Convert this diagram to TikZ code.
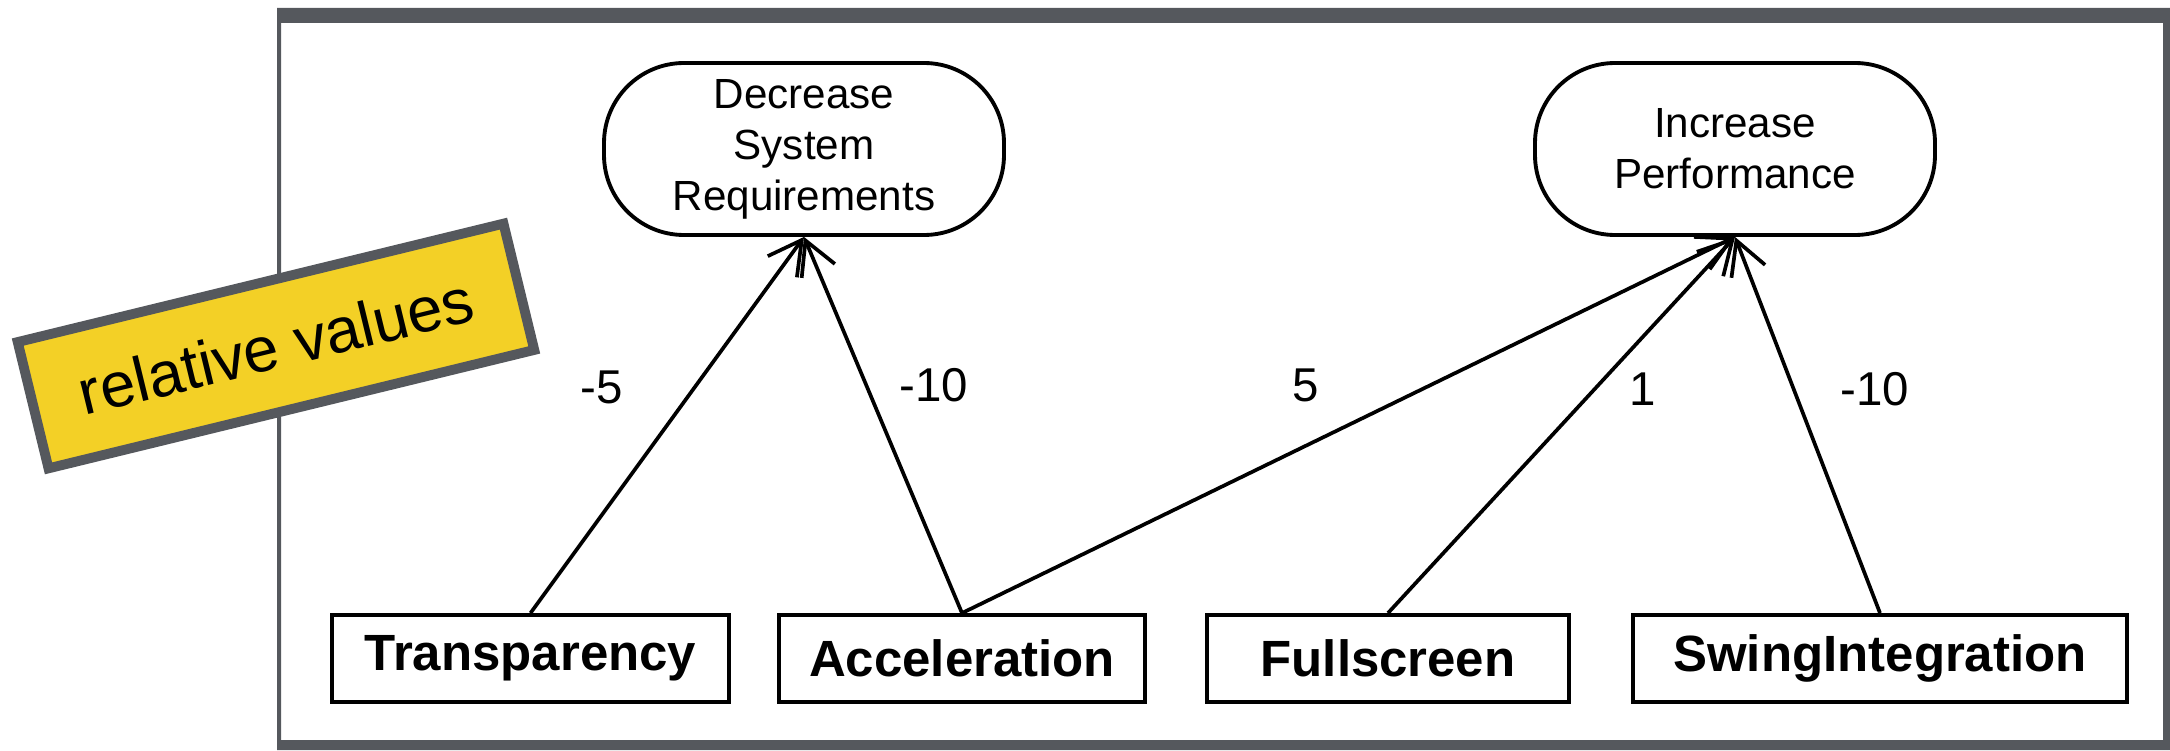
\documentclass[tikz,border=0pt]{standalone}
\usepackage{fontspec}
\setmainfont{Liberation Sans}
\definecolor{notegray}{RGB}{85,88,93}
\definecolor{noteyellow}{RGB}{243,208,38}
\usetikzlibrary{arrows.meta}
\usetikzlibrary{positioning}
\tikzset{
  goal/.style={draw, line width=1.1pt, rounded corners=0.8cm, minimum width=4cm, minimum height=1.72cm, align=center, font=\fontsize{12}{14.5}\selectfont},
  feature/.style={draw, line width=1.1pt, minimum height=0.87cm, font=\fontsize{14.5}{17}\selectfont\bfseries},
  contrib/.style={line width=1.05pt, -{Straight Barb[length=3.3mm,width=3.6mm]}},
  weight/.style={font=\fontsize{13.5}{16}\selectfont},
}

\begin{document}
\begin{tikzpicture}
  \useasboundingbox (0,0) rectangle (21.7,7.5);

  % frame
  \fill [notegray, even odd rule] (2.77,0) rectangle (21.7,7.42) (2.81,0.10) rectangle (21.63,7.27);

  \node [goal] (dec) at (8.04,6.01) {Decrease\\System\\Requirements};
  \node [goal] (inc) at (17.35,6.01) {Increase\\Performance};

  \node [feature, minimum width=3.97cm] (trans) at (5.305,0.915) {Transparency};
  \node [feature, minimum width=3.66cm] (accel) at (9.62,0.915) {Acceleration};
  \node [feature, minimum width=3.62cm] (full) at (13.88,0.915) {Fullscreen};
  \node [feature, minimum width=4.94cm] (swing) at (18.8,0.915) {SwingIntegration};

  \draw [contrib] (trans.north) -- (dec.south);
  \draw [contrib] (accel.north) -- (dec.south);
  \draw [contrib] (accel.north) -- (inc.south);
  \draw [contrib] (full.north) -- (inc.south);
  \draw [contrib] (swing.north) -- (inc.south);

  \node [weight] (w1) at (6.02,3.63) {-5};
  \node [weight] (w2) at (9.34,3.65) {-10};
  \node [weight] (w3) at (13.06,3.65) {5};
  \node [weight] (w4) at (16.43,3.61) {1};
  \node [weight] (w5) at (18.75,3.61) {-10};

  % sticky note
  \node [draw=notegray, line width=2.8pt, fill=noteyellow, rotate=13.7, minimum width=5cm, minimum height=1.3cm, font=\fontsize{18}{21}\selectfont] (note) at (2.76,4.04) {relative values};

\end{tikzpicture}
\end{document}
